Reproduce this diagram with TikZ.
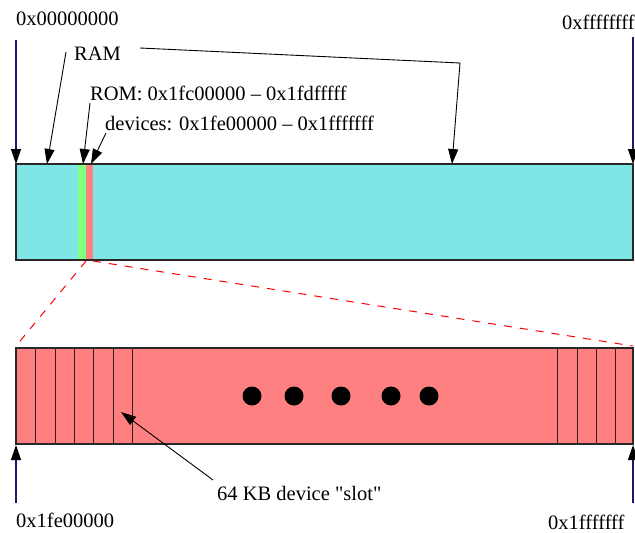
\documentclass[tikz,border=0pt]{standalone}
\usepackage{fontspec}
\setmainfont{Liberation Serif}
\usetikzlibrary{arrows.meta}
\definecolor{ramc}{RGB}{127,229,229}
\definecolor{romc}{RGB}{128,255,128}
\definecolor{devc}{RGB}{255,128,128}
\definecolor{navy}{RGB}{25,25,112}
\tikzset{
  lbl/.style={anchor=base west, inner sep=0pt, font=\fontsize{20.5}{24}\selectfont},
  arr/.style={-{Triangle[length=15pt,width=10pt,color=black,fill=black]}, line width=0.9pt},
  addrarr/.style={arr, draw=navy, line width=1.3pt},
  bar/.style={draw={rgb,255:red,40;green,40;blue,40}, line width=1.4pt},
  slot/.style={draw={rgb,255:red,50;green,30;blue,30}, line width=1pt},
  zoomline/.style={draw=red, dashed, dash pattern=on 8pt off 8pt, line width=1pt},
  dot/.style={circle, fill=black, inner sep=0pt, minimum size=19pt}
}
\begin{document}
\begin{tikzpicture}[x=1pt,y=-1pt]
\useasboundingbox (0,0) rectangle (635,533);
% top bar
\fill[ramc] (16,164) rectangle (633,260);
\fill[romc] (78,164) rectangle (86,260);
\fill[devc] (86,164) rectangle (93,260);
\draw[bar] (16,164) rectangle (633,260);
% bottom bar
\fill[devc] (16,348) rectangle (633,444);
\foreach \x in {35,55,74,93,113,132,557,577,596,615}
  \draw[slot] (\x,348) -- (\x,444);
\draw[bar] (16,348) rectangle (633,444);
% dots
\foreach \x/\n in {252/a,294/b,341/c,391/d,429/e}
  \node[dot] (dot\n) at (\x,396) {};
% zoom lines
\coordinate (zl0) at (86,261);
\coordinate (zl1) at (16,346);
\coordinate (zr0) at (93,261);
\coordinate (zr1) at (633,346);
\draw[zoomline] (zl0) -- (zl1);
\draw[zoomline] (zr0) -- (zr1);
% labels
\node[lbl] (lzero) at (16,25) {0x00000000};
\node[lbl] (lff) at (562,29) {0xffffffff};
\node[lbl] (lram) at (74,60) {RAM};
\node[lbl] (lrom) at (90,100) {ROM: 0x1fc00000 – 0x1fdfffff};
\node[lbl] (ldev) at (105,130) {devices: 0x1fe00000 – 0x1fffffff};
\node[lbl] (lslot) at (217,500) {64 KB device \textquotedbl slot\textquotedbl};
\node[lbl] (lfe) at (16,527) {0x1fe00000};
\node[lbl] (l1f) at (548,529) {0x1fffffff};
% coordinates
\coordinate (a0s) at (16,40);  \coordinate (a0e) at (16,164);
\coordinate (afs) at (633,37); \coordinate (afe) at (633,164);
\coordinate (r1s) at (66,52);  \coordinate (r1e) at (47,164);
\coordinate (r2s) at (140,48); \coordinate (r2m) at (460,63); \coordinate (r2e) at (452,164);
\coordinate (rms) at (90,103); \coordinate (rme) at (83,164);
\coordinate (dvs) at (106,133); \coordinate (dve) at (91,164);
\coordinate (sls) at (213,480); \coordinate (sle) at (121,412);
\coordinate (b0s) at (16,503); \coordinate (b0e) at (16,445);
\coordinate (b1s) at (633,503); \coordinate (b1e) at (633,445);
% arrows
\draw[addrarr] (a0s) -- (a0e);
\draw[addrarr] (afs) -- (afe);
\draw[addrarr] (b0s) -- (b0e);
\draw[addrarr] (b1s) -- (b1e);
\draw[arr] (r1s) -- (r1e);
\draw[arr] (r2s) -- (r2m) -- (r2e);
\draw[arr] (rms) -- (rme);
\draw[arr] (dvs) -- (dve);
\draw[arr] (sls) -- (sle);
\end{tikzpicture}
\end{document}
